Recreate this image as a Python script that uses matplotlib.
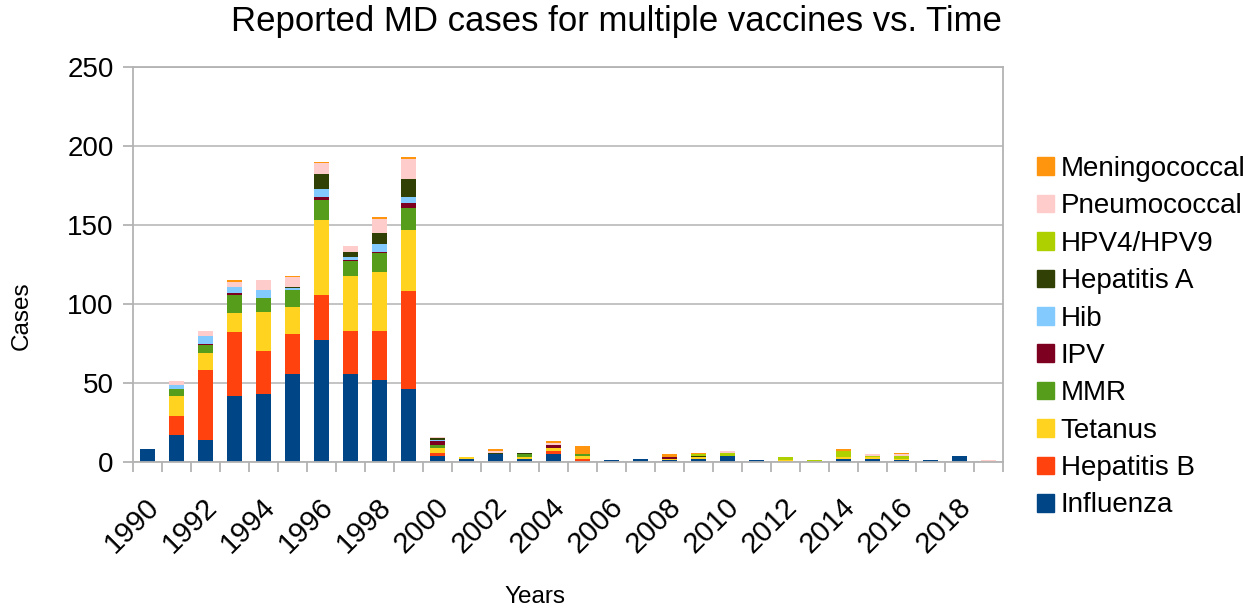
import numpy as np
import matplotlib
matplotlib.use('Agg')
from matplotlib import pyplot as plt
from matplotlib.patches import Patch
from matplotlib.transforms import ScaledTranslation

plt.rcParams['font.family'] = ['Liberation Sans', 'DejaVu Sans']

#%% Data
years = list(range(1990, 2020))
influenza    = [8, 17, 14, 42, 43, 56, 77, 56, 52, 46, 4, 2, 5, 2, 5, 0, 1, 2, 1, 2, 4, 1, 0, 0, 2, 2, 1, 1, 4, 0]
hepatitis_b  = [0, 12, 44, 40, 27, 25, 29, 27, 31, 62, 2, 0, 0, 0, 2, 2, 0, 0, 0, 0, 0, 0, 0, 0, 0, 0, 0, 0, 0, 0]
tetanus      = [0, 13, 11, 12, 25, 17, 47, 35, 37, 39, 3, 1, 0, 1, 2, 2, 0, 0, 1, 1, 0, 0, 1, 0, 1, 1, 1, 0, 0, 0]
mmr          = [0, 4, 5, 12, 9, 11, 13, 9, 12, 14, 2, 0, 0, 2, 0, 1, 0, 0, 0, 0, 0, 0, 0, 0, 0, 0, 0, 0, 0, 0]
ipv          = [0, 0, 1, 1, 0, 0, 2, 1, 1, 3, 2, 0, 0, 0, 2, 0, 0, 0, 1, 0, 0, 0, 0, 0, 0, 0, 0, 0, 0, 0]
hib          = [0, 3, 5, 4, 5, 1, 5, 2, 5, 4, 1, 0, 0, 0, 0, 0, 0, 0, 0, 0, 0, 0, 0, 0, 0, 0, 0, 0, 0, 0]
hepatitis_a  = [0, 0, 0, 0, 0, 1, 9, 3, 7, 11, 1, 0, 1, 1, 0, 0, 0, 0, 0, 1, 0, 0, 0, 0, 0, 0, 0, 0, 0, 0]
hpv          = [0, 0, 0, 0, 0, 0, 0, 0, 0, 0, 0, 0, 0, 0, 0, 0, 0, 0, 0, 1, 2, 0, 2, 1, 4, 1, 2, 0, 0, 0]
pneumococcal = [0, 2, 3, 3, 6, 6, 7, 4, 9, 13, 1, 0, 1, 0, 1, 0, 0, 0, 0, 0, 1, 0, 0, 0, 0, 1, 1, 0, 0, 1]
meningococcal= [0, 0, 0, 1, 0, 1, 1, 0, 1, 1, 0, 0, 1, 0, 1, 5, 0, 0, 2, 1, 0, 0, 0, 0, 1, 0, 1, 0, 0, 0]

series = [
    ('Influenza', influenza, '#004586'),
    ('Hepatitis B', hepatitis_b, '#ff420e'),
    ('Tetanus', tetanus, '#ffd320'),
    ('MMR', mmr, '#579d1c'),
    ('IPV', ipv, '#7e0021'),
    ('Hib', hib, '#83caff'),
    ('Hepatitis A', hepatitis_a, '#314004'),
    ('HPV4/HPV9', hpv, '#aecf00'),
    ('Pneumococcal', pneumococcal, '#ffcccc'),
    ('Meningococcal', meningococcal, '#ff950e'),
]

#%% Plot
W, H = 1253, 609
fig = plt.figure(figsize=(W/100, H/100), dpi=100)
ax = fig.add_axes([133/W, 1-462/H, (1003-133)/W, (462-67)/H])

x = np.arange(len(years))
bottom = np.zeros(len(years))
for name, vals, color in series:
    vals = np.array(vals, dtype=float)
    ax.bar(x, vals, width=0.52, bottom=bottom, color=color, label=name, zorder=2)
    bottom += vals

ax.set_xlim(-0.5, len(years)-0.5)
ax.set_ylim(0, 250)
ax.set_yticks(np.arange(0, 251, 50))
ax.yaxis.grid(True, color='#b3b3b3', lw=1.1, zorder=0)
ax.set_axisbelow(True)
for s in ax.spines.values():
    s.set_color('#b3b3b3')
    s.set_linewidth(1.3)
ax.spines['bottom'].set_zorder(3)

# labels on even years, tick marks on category boundaries
ax.set_xticks(x[::2])
ax.set_xticklabels([str(y) for y in years[::2]], rotation=45, ha='right', va='top')
ax.set_xticks(np.arange(-0.5, len(years), 1), minor=True)
ax.tick_params(axis='x', which='major', length=0, pad=22, labelsize=21)
ax.tick_params(axis='x', which='minor', length=7, width=1.3, color='#b3b3b3')
ax.tick_params(axis='y', length=7, width=1.3, color='#b3b3b3', pad=7, labelsize=20)
shift = ScaledTranslation(17/100, 0, fig.dpi_scale_trans)
for lbl in ax.get_xticklabels():
    lbl.set_transform(lbl.get_transform() + shift)

fig.text(616/W, 1-22/H, 'Reported MD cases for multiple vaccines vs. Time',
         ha='center', va='center', fontsize=25)
fig.text(22/W, 1-316/H, 'Cases', rotation=90, ha='center', va='center', fontsize=17.5)
fig.text(535/W, 1-597/H, 'Years', ha='center', va='center', fontsize=17.5)

handles = [Patch(color=c, label=n) for n, v, c in series][::-1]
fig.legend(handles=handles, loc='upper left', bbox_to_anchor=(1037/W, 1-156/H),
           frameon=False, fontsize=20, handlelength=0.6, handleheight=0.6,
           handletextpad=0.25, labelspacing=0.41, borderaxespad=0, borderpad=0)

fig.savefig('out.png', dpi=100)
